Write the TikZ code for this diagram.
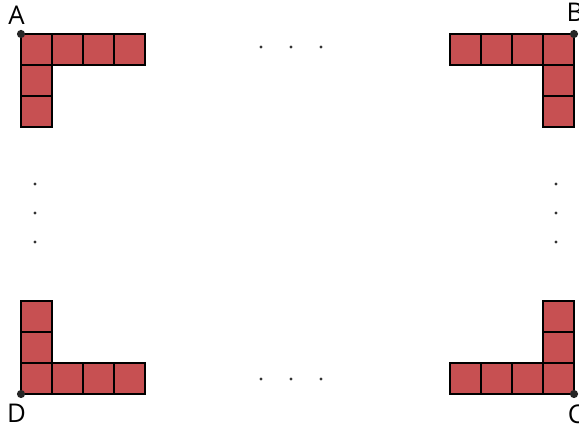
\documentclass[tikz,border=0pt]{standalone}
\usepackage{fontspec}
\setmainfont{Open Sans}
\usetikzlibrary{positioning}
\definecolor{tilered}{HTML}{C75052}

\begin{document}
\begin{tikzpicture}[
      x=0.03cm, y=-0.03cm,
      every node/.style={font=\fontsize{22}{26}\selectfont},
      tile/.style={draw, line width=1.6pt, fill=tilered},
      corner/.style={circle, fill=black!85, inner sep=0pt, minimum size=7pt},
      dotmark/.style={circle, fill=black!80, inner sep=0pt, minimum size=2.8pt},
    ]
    \useasboundingbox (0,0) rectangle (579,428);

    % Top row of tiles
    \foreach \i in {0,...,3} {
      \draw[tile] (21+31*\i,34) rectangle ++(31,31);
      \draw[tile] (450+31*\i,34) rectangle ++(31,31);
    }
    \draw[tile] (21,65) rectangle ++(31,31);
    \draw[tile] (21,96) rectangle ++(31,31);
    \draw[tile] (543,65) rectangle ++(31,31);
    \draw[tile] (543,96) rectangle ++(31,31);

    % Bottom row of tiles
    \foreach \i in {0,...,3} {
      \draw[tile] (21+31*\i,363) rectangle ++(31,31);
      \draw[tile] (450+31*\i,363) rectangle ++(31,31);
    }
    \draw[tile] (21,301) rectangle ++(31,31);
    \draw[tile] (21,332) rectangle ++(31,31);
    \draw[tile] (543,301) rectangle ++(31,31);
    \draw[tile] (543,332) rectangle ++(31,31);

    % Corners
    \node[corner] (a) at (21,34) {};
    \node[corner] (b) at (574,34) {};
    \node[corner] (c) at (574,394) {};
    \node[corner] (d) at (21,394) {};
    \node[anchor=base] (la) at (16.5,25) {A};
    \node[anchor=base] (lb) at (575,22) {B};
    \node[anchor=base] (lc) at (576,424) {C};
    \node[anchor=base] (ld) at (16.5,423) {D};

    % Ellipses
    \foreach \x in {261,291,321} {
      \node[dotmark] at (\x,47) {};
      \node[dotmark] at (\x,379) {};
    }
    \foreach \y in {184,213,242} {
      \node[dotmark] at (35,\y) {};
      \node[dotmark] at (556,\y) {};
    }
  \end{tikzpicture}
\end{document}
